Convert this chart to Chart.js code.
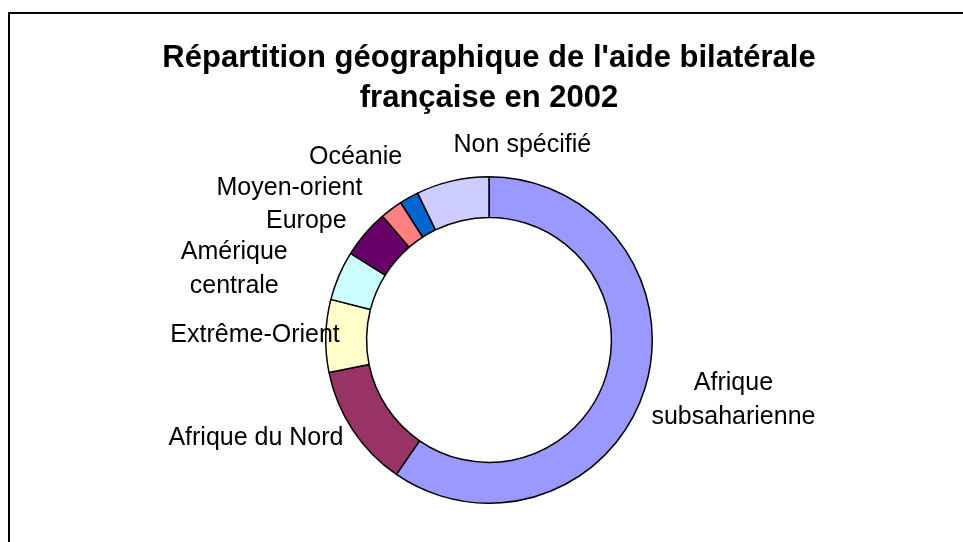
<!DOCTYPE html>
<html>
<head>
<meta charset="utf-8">
<script src="https://cdn.jsdelivr.net/npm/chart.js@4.4.1/dist/chart.umd.min.js"></script>
<style>
  html, body { margin: 0; padding: 0; background: #fff; }
  #wrap { width: 963px; height: 542px; position: relative; }
</style>
</head>
<body>
<div id="wrap"><canvas id="chart" width="963" height="542"></canvas></div>
<script>
// ----- données -----
var regions = ['Afrique subsaharienne', 'Afrique du Nord', 'Extrême-Orient', 'Amérique centrale',
  'Europe', 'Moyen-orient', 'Océanie', 'Non spécifié'];
var parts = [59.6, 12.2, 7.2, 4.9, 4.8, 2.2, 1.9, 7.2];
var couleurs = ['#9999FF', '#993366', '#FFFFCC', '#CCFFFF', '#660066', '#FF8080', '#0066CC', '#CCCCFF'];
var titre = ["Répartition géographique de l'aide bilatérale", 'française en 2002'];

// cadre de la zone du graphique
var framePlugin = {
  id: 'frame',
  beforeDraw: function(chart) {
    var ctx = chart.ctx;
    ctx.save();
    ctx.fillStyle = '#fff';
    ctx.fillRect(0, 0, chart.width, chart.height);
    ctx.strokeStyle = '#000';
    ctx.lineWidth = 2;
    ctx.strokeRect(9, 13, chart.width + 20, chart.height + 20);
    ctx.restore();
  }
};

// étiquettes à l'extérieur de l'anneau, placées à partir de la géométrie des arcs
var labelPlugin = {
  id: 'outLabels',
  afterDatasetsDraw: function(chart, args, opts) {
    var ctx = chart.ctx;
    var meta = chart.getDatasetMeta(0);
    ctx.save();
    ctx.font = opts.font;
    ctx.fillStyle = '#000';
    ctx.textAlign = 'center';
    ctx.textBaseline = 'middle';
    meta.data.forEach(function(arc, i) {
      var p = arc.getProps(['x', 'y', 'startAngle', 'endAngle', 'outerRadius'], true);
      var mid = (p.startAngle + p.endAngle) / 2;
      var r = p.outerRadius + opts.gap;
      var ax = p.x + Math.cos(mid) * r, ay = p.y + Math.sin(mid) * r;
      var name = chart.data.labels[i];
      var lines = opts.wrap.indexOf(i) >= 0 ? name.split(' ') : [name];
      var w = Math.max.apply(null, lines.map(function(l) { return ctx.measureText(l).width; }));
      var n = opts.nudge[i] || [0, 0];
      var cx = ax + (Math.cos(mid) >= 0 ? w / 2 : -w / 2) + n[0];
      var cy = ay + n[1];
      lines.forEach(function(l, k) {
        ctx.fillText(l, cx, cy + (k - (lines.length - 1) / 2) * opts.lineHeight);
      });
    });
    ctx.restore();
  }
};

new Chart(document.getElementById('chart'), {
  type: 'doughnut',
  data: {
    labels: regions,
    datasets: [{ data: parts, backgroundColor: couleurs, borderColor: '#000', borderWidth: 1.5 }]
  },
  options: {
    responsive: false, animation: false, cutout: '75%',
    layout: { padding: { left: 15, right: 0, top: 0, bottom: 38 } },
    plugins: {
      legend: { display: false },
      tooltip: { enabled: false },
      title: {
        display: true, text: titre, color: '#000',
        font: { family: '"Liberation Sans", Arial, sans-serif', size: 31, weight: 'bold', lineHeight: 1.29 },
        padding: { top: 38, bottom: 58 }
      },
      outLabels: {
        font: '25px "Liberation Sans", Arial, sans-serif',
        gap: 10, lineHeight: 34,
        wrap: [0, 3],
        nudge: [[-3, 9], [-1, 3], [24, -1], [-42, -3], [-11, -6], [-23, -13], [-2, -32], [141, -26]]
      }
    }
  },
  plugins: [framePlugin, labelPlugin]
});
</script>
</body>
</html>
